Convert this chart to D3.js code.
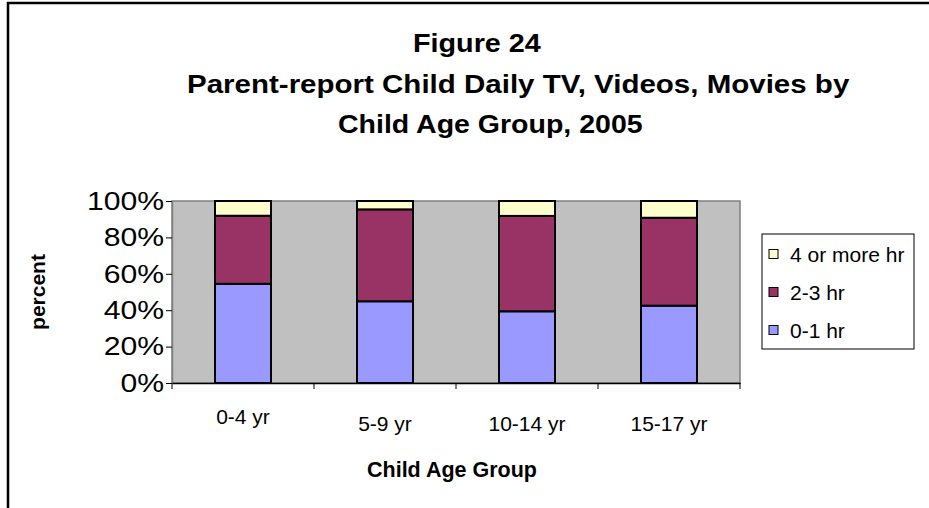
<!DOCTYPE html>
<html><head><meta charset="utf-8">
<script src="https://cdn.jsdelivr.net/npm/d3@7"></script>
<style>body{margin:0;background:#fff}svg{display:block;font-family:Arial,"Liberation Sans",sans-serif}</style>
</head><body><div id="chart"></div>
<script>
const categories = ["0-4 yr", "5-9 yr", "10-14 yr", "15-17 yr"];
const seriesNames = ["0-1 hr", "2-3 hr", "4 or more hr"];
const hr0to1 = [54.5, 44.9, 39.4, 42.5];
const hr2to3 = [37.4, 50.5, 52.4, 48.3];
const hr4plus = [8.1, 4.6, 8.2, 9.2];
const yTicks = [0, 20, 40, 60, 80, 100];
const colors = ["#9999FF", "#993366", "#FFFFCC"];
const titleLines = ["Figure 24", "Parent-report Child Daily TV, Videos, Movies by", "Child Age Group, 2005"];

const W = 929, H = 508;
const plot = {left: 172, right: 740, top: 201, bottom: 383};
const svg = d3.select("#chart").append("svg").attr("width", W).attr("height", H);
const FONT = "Arial, 'Liberation Sans', sans-serif";

// chart border (left & top)
svg.append("path").attr("d", `M8,${H} L8,3 L${W},3`).attr("fill","none").attr("stroke","#000").attr("stroke-width",2.5);

// title
const tLayout = [{x:413, y:52, s:1.15}, {x:187, y:93, s:1.18}, {x:338, y:133, s:1.14}];
titleLines.forEach((t,i)=>{
  const el = svg.append("text").attr("x", tLayout[i].x).attr("y", tLayout[i].y).attr("text-anchor","start")
    .attr("font-weight","bold").attr("font-size",25).text(t);
  const l = el.node().getComputedTextLength();
  el.attr("textLength", l*tLayout[i].s).attr("lengthAdjust","spacingAndGlyphs");
});

const x = d3.scaleBand().domain(categories).range([plot.left, plot.right]).paddingInner(0).paddingOuter(0);
const y = d3.scaleLinear().domain([0,100]).range([plot.bottom, plot.top]);

// plot area
svg.append("rect").attr("x",plot.left).attr("y",plot.top).attr("width",plot.right-plot.left)
  .attr("height",plot.bottom-plot.top).attr("fill","#C0C0C0").attr("stroke","#808080").attr("stroke-width",1.5);

const data = categories.map((c,i)=>({cat:c, "0-1 hr":hr0to1[i], "2-3 hr":hr2to3[i], "4 or more hr":hr4plus[i]}));
const stack = d3.stack().keys(seriesNames)(data);
const bw = 56;
svg.append("g").selectAll("g").data(stack).join("g").attr("fill",(d,i)=>colors[i])
  .selectAll("rect").data(d=>d).join("rect")
  .attr("x", d=>x(d.data.cat)+x.bandwidth()/2-bw/2).attr("width", bw)
  .attr("y", d=>y(d[1])).attr("height", d=>y(d[0])-y(d[1]))
  .attr("stroke","#000").attr("stroke-width",2);

// y axis
const yAxis = svg.append("g").attr("transform",`translate(${plot.left},0)`)
  .call(d3.axisLeft(y).tickValues(yTicks).tickSize(6).tickSizeOuter(0).tickPadding(2).tickFormat(d=>d+"%"));
yAxis.select(".domain").attr("stroke","#808080").attr("stroke-width",1.5);
yAxis.selectAll(".tick line").attr("stroke","#000");
yAxis.selectAll("text").attr("font-size",26).attr("font-family",FONT).attr("fill","#000")
  .each(function(){ const l=this.getComputedTextLength(); d3.select(this).attr("textLength", l*1.16).attr("lengthAdjust","spacingAndGlyphs"); });

// x axis
const xAxis = svg.append("g").attr("transform",`translate(0,${plot.bottom})`)
  .call(d3.axisBottom(x).tickSize(0).tickPadding(24));
xAxis.select(".domain").attr("stroke","#000").attr("stroke-width",1.5);
xAxis.selectAll("text").attr("font-size",21).attr("font-family",FONT).attr("fill","#000")
  .attr("dy",0).attr("y",(d,i)=> i===0 ? 41 : 48);
const bounds = categories.map(c=>x(c)).concat([plot.right]);
svg.append("g").selectAll("line").data(bounds).join("line")
  .attr("x1",d=>d).attr("x2",d=>d).attr("y1",plot.bottom).attr("y2",plot.bottom+6).attr("stroke","#000");

// axis titles
svg.append("text").attr("x",452).attr("y",477).attr("text-anchor","middle")
  .attr("font-weight","bold").attr("font-size",21.5).text("Child Age Group");
svg.append("text").attr("transform","translate(45,292) rotate(-90)").attr("text-anchor","middle")
  .attr("font-weight","bold").attr("font-size",21).text("percent");

// legend
const lg = svg.append("g");
lg.append("rect").attr("x",762).attr("y",234).attr("width",152).attr("height",115).attr("fill","#fff").attr("stroke","#000").attr("stroke-width",1);
const legendOrder = ["4 or more hr","2-3 hr","0-1 hr"];
const ly = [254, 292, 330];
legendOrder.forEach((n,i)=>{
  const ci = seriesNames.indexOf(n);
  lg.append("rect").attr("x",769).attr("y",ly[i]-4.5).attr("width",9).attr("height",9).attr("fill",colors[ci]).attr("stroke","#000").attr("stroke-width",1);
  lg.append("text").attr("x",790).attr("y",ly[i]).attr("dominant-baseline","central").attr("font-size",21).text(n);
});
</script></body></html>
